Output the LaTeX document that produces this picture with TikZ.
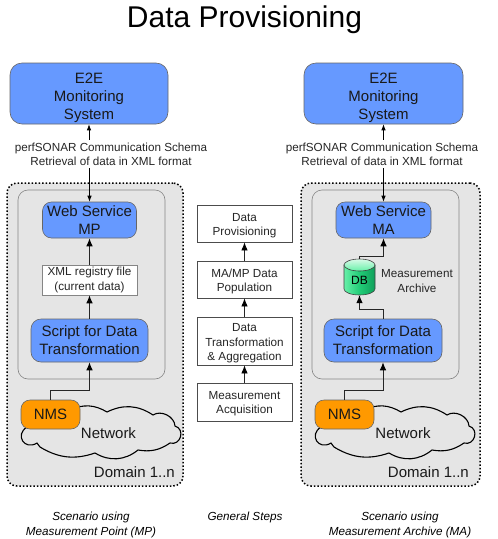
\documentclass[tikz,border=0pt]{standalone}
\usepackage{fontspec}
\setmainfont{Liberation Sans}
\usetikzlibrary{arrows.meta}
\definecolor{bluebox}{HTML}{6699FF}
\definecolor{orangebox}{HTML}{FF9900}
\definecolor{domaingray}{HTML}{E5E5E5}
\definecolor{edgegray}{HTML}{666666}
\definecolor{dbgreen}{HTML}{22CC77}
\definecolor{dbdark}{HTML}{0F9F5A}
\definecolor{dblight}{HTML}{66F0A8}
\definecolor{dbtop}{HTML}{D8FBE8}
\tikzset{
  big/.style={font=\fontsize{15}{18}\selectfont,align=center,inner sep=0pt,text=black!90},
  small/.style={font=\fontsize{11.7}{14.2}\selectfont,align=center,inner sep=0pt,text=black!85},
  bluenode/.style={big,draw=edgegray,line width=0.6pt,fill=bluebox,rounded corners=#1},
  domainbox/.style={draw=black,fill=domaingray,line width=1.5pt,dash pattern=on 1.5pt off 2pt,rounded corners=10pt,inner sep=0pt},
  innerbox/.style={draw=edgegray!80,line width=0.6pt,rounded corners=10pt,inner sep=0pt},
  nmsbox/.style={big,draw=edgegray,line width=0.6pt,fill=orangebox,rounded corners=9pt},
  stepbox/.style={small,draw=black!70,line width=0.8pt,fill=white,minimum width=95pt},
  filebox/.style={small,draw=edgegray!80,line width=0.6pt,fill=white,minimum width=95pt,minimum height=30pt},
  arr/.style={draw=black!85,line width=0.8pt,-{Latex[length=8pt,width=6.5pt,black]}},
  arrs/.style={draw=black,line width=0.7pt,-{Latex[length=6pt,width=4.5pt]}},
  cloudline/.style={draw=black,line width=1.1pt,fill=domaingray},
  dbanchor/.style={minimum width=31pt,minimum height=36pt,inner sep=0pt},
  caption/.style={font=\fontsize{11.7}{15}\selectfont\itshape,align=center,inner sep=0pt}
}
\newcommand{\cloudshape}[1]{%
  \draw[cloudline,shift={(#1,0)},x=1pt,y=-1pt]
    (70,410) to[bend left=28] (107,412) to[bend left=30] (153,415)
    to[bend left=60] (175,426) to[bend left=90,looseness=1.6] (170,443)
    to[bend left=22] (138,450) to[bend left=35] (95,453)
    to[bend left=25] (40,447) to[bend left=15] (37,443)
    to[bend left=90,looseness=2] (27,427) to[bend left=30] cycle;}
\newcommand{\dbshape}[2]{%
  \begin{scope}[shift={(#1,#2)},x=1pt,y=1pt]
    \path[left color=dblight,right color=dbdark,middle color=dbgreen,draw=black!75,line width=0.6pt]
      (-15.5,12) -- (-15.5,-12) arc[start angle=180,end angle=360,x radius=15.5,y radius=6]
      -- (15.5,12) -- cycle;
    \path[top color=dbtop,bottom color=dblight,draw=black!75,line width=0.6pt]
      (0,12) ellipse[x radius=15.5,y radius=6];
  \end{scope}}
\begin{document}
\begin{tikzpicture}[x=1pt,y=-1pt]
\useasboundingbox (0,0) rectangle (498,539);
\node[font=\fontsize{30}{34}\selectfont,inner sep=0pt] (title) at (244.5,20) {Data Provisioning};

% Left column
\node[bluenode=12pt,minimum width=158pt,minimum height=61pt] (e2eL) at (89,93.5) {\rule{0pt}{19pt}E2E\\Monitoring\\System};
\node[small,minimum height=28pt] (schemaL) at (111,154) {perfSONAR Communication Schema\\Retrieval of data in XML format};
\node[domainbox,minimum width=176pt,minimum height=303pt] (domL) at (95,334.5) {};
\node[innerbox,minimum width=147pt,minimum height=189pt] (innL) at (91.5,284.5) {};
\node[bluenode=9pt,minimum width=94pt,minimum height=36pt] (wsL) at (89.5,220) {Web Service\\MP};
\node[filebox] (xmlL) at (89.5,280) {XML registry file\\(current data)};
\node[bluenode=10pt,minimum width=117pt,minimum height=43pt] (scL) at (89.5,340.5) {Script for Data\\Transformation};
\cloudshape{0}
\node[nmsbox,minimum width=59pt,minimum height=29pt] (nmsL) at (50.5,414.5) {NMS};
\node[big] (netL) at (108.5,433) {Network};
\node[big,anchor=east] (dL) at (175,472) {Domain 1..n};

\draw[arrs] (schemaL.north -| e2eL.south) -- (e2eL.south);
\draw[arrs] (schemaL.south -| wsL.north) -- (wsL.north);
\draw[arr] (xmlL.north) -- (wsL.south);
\draw[arr] (scL.north) -- (xmlL.south);
\draw[arr] (nmsL.north) -- ++(0,-9) -| (scL.south);

% Right column
\node[bluenode=12pt,minimum width=159pt,minimum height=61pt] (e2eR) at (383.5,93.5) {\rule{0pt}{19pt}E2E\\Monitoring\\System};
\node[small,minimum height=28pt] (schemaR) at (382,154) {perfSONAR Communication Schema\\Retrieval of data in XML format};
\node[domainbox,minimum width=179pt,minimum height=303pt] (domR) at (390.5,334.5) {};
\node[innerbox,minimum width=147pt,minimum height=189pt] (innR) at (385.5,284.5) {};
\node[bluenode=9pt,minimum width=95pt,minimum height=36pt] (wsR) at (383.5,220) {Web Service\\MA};
\dbshape{359.5}{277}
\node[dbanchor] (db) at (359.5,277) {};
\node[font=\fontsize{12}{14}\selectfont,inner sep=0pt] (dbt) at (359.5,280) {DB};
\node[small] (arch) at (417,281) {Measurement\\Archive};
\node[bluenode=10pt,minimum width=118pt,minimum height=43pt] (scR) at (383,340.5) {Script for Data\\Transformation};
\cloudshape{294}
\node[nmsbox,minimum width=59pt,minimum height=29pt] (nmsR) at (344.5,414.5) {NMS};
\node[big] (netR) at (403,433) {Network};
\node[big,anchor=east] (dR) at (469,472) {Domain 1..n};

\draw[arrs] (schemaR.north -| e2eR.south) -- (e2eR.south);
\draw[arrs] (schemaR.south -| wsR.north) -- (wsR.north);
\draw[arr] (db.north) -- ++(0,-2) -| (wsR.south);
\draw[arr] (scR.north) -- ++(0,-9) -| (db.south);
\draw[arr] (nmsR.north) -- ++(0,-9) -| (scR.south);

% Middle column
\node[stepbox,minimum height=37pt] (s4) at (244.5,223.5) {\rule{0pt}{12.5pt}Data\\Provisioning};
\node[stepbox,minimum height=37pt] (s3) at (244.5,279.5) {\rule{0pt}{12.5pt}MA/MP Data\\Population};
\node[stepbox,minimum height=48pt] (s2) at (244.5,341) {\rule{0pt}{12.5pt}Data\\Transformation\\\& Aggregation};
\node[stepbox,minimum height=38pt] (s1) at (244.5,402) {\rule{0pt}{12pt}Measurement\\Acquisition};
\draw[arr] (s1.north) -- (s2.south);
\draw[arr] (s2.north) -- (s3.south);
\draw[arr] (s3.north) -- (s4.south);

% Captions
\node[caption] (capL) at (91,524.5) {Scenario using\\Measurement Point (MP)};
\node[caption] (capM) at (245,517) {General Steps};
\node[caption] (capR) at (400,524.5) {Scenario using\\Measurement Archive (MA)};
\end{tikzpicture}
\end{document}
